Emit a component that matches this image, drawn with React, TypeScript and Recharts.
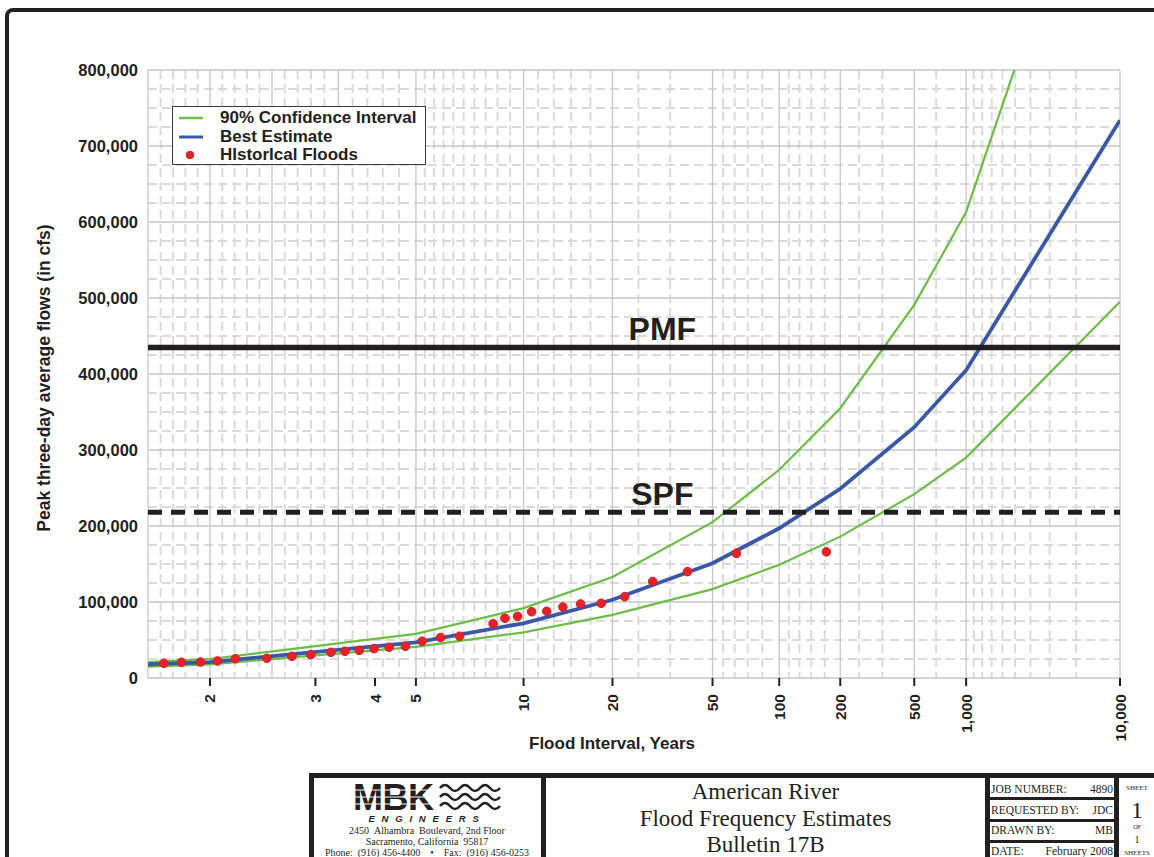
import React from 'react';
import {
  ComposedChart,
  Line,
  Scatter,
  XAxis,
  YAxis,
  CartesianGrid,
  ReferenceLine,
  ReferenceDot,
} from 'recharts';

// frequency curves, read at these flood intervals (years)
const CURVE_YEARS = [1.667, 2, 5, 10, 20, 50, 100, 200, 500, 1000, 10000];
const BEST_ESTIMATE = [18000, 21000, 47000, 72000, 103000, 151000, 197000, 249000, 330000, 405000, 734000];
const UPPER_90 = [21000, 25000, 58000, 92000, 133000, 205000, 274000, 355000, 491000, 613000, 1210000];
const LOWER_90 = [15000, 18000, 41000, 60000, 83000, 117000, 149000, 186000, 242000, 290000, 495000];

// historical floods: plotting interval (years) and peak three-day flow (cfs)
const FLOOD_YEARS = [1.74, 1.83, 1.94, 2.05, 2.18, 2.45, 2.71, 2.94, 3.22, 3.44, 3.69, 3.98, 4.31, 4.71, 5.18, 5.78, 6.5, 8.09, 8.77, 9.58, 10.6, 11.85, 13.4, 15.4, 18.2, 22.2, 28.4, 39.2, 63.6, 170];
const FLOOD_FLOWS = [19300, 20700, 21000, 22400, 25400, 25900, 28600, 30700, 33800, 35100, 36400, 38600, 40400, 41700, 48400, 53300, 55000, 71400, 78600, 81200, 87200, 87800, 93400, 97400, 98300, 107000, 127000, 140000, 164000, 166000];

const PMF = 435000;
const SPF = 218000;
const LABEL_YEARS = 31;

const TICK_YEARS = [2, 3, 4, 5, 10, 20, 50, 100, 200, 500, 1000, 10000];
const Y_TICKS = [0, 100000, 200000, 300000, 400000, 500000, 600000, 700000, 800000];

// probability paper grid (exceedance probability)
const MAJOR_P = [0.6, 0.5, 0.4, 0.3, 0.2, 0.1, 0.05, 0.02, 0.01, 0.005, 0.002, 0.001, 0.0001];
const MINOR_P = [
  0.58, 0.56, 0.54, 0.52, 0.48, 0.46, 0.44, 0.42, 0.38, 0.36, 0.34, 0.32, 0.28, 0.26, 0.24, 0.22,
  0.19, 0.18, 0.17, 0.16, 0.15, 0.14, 0.13, 0.12, 0.11, 0.09, 0.08, 0.07, 0.06, 0.04, 0.03,
  0.018, 0.016, 0.014, 0.012, 0.009, 0.008, 0.007, 0.006, 0.004, 0.003, 0.0015,
  0.0009, 0.0008, 0.0007, 0.0006, 0.0005, 0.0004, 0.0003, 0.0002,
];

const GREEN = '#6cbd45';
const BLUE = '#3b57a7';
const RED = '#ec2027';
const INK = '#231f20';
const SANS = '"Liberation Sans", Arial, sans-serif';
const SERIF = '"Liberation Serif", "Times New Roman", serif';
const NB = '\u00a0';

// inverse standard normal CDF (Acklam)
function probit(p: number) {
  const a = [-39.69683028665376, 220.9460984245205, -275.9285104469687, 138.357751867269, -30.66479806614716, 2.506628277459239];
  const b = [-54.47609879822406, 161.5858368580409, -155.6989798598866, 66.80131188771972, -13.28068155288572];
  const c = [-0.007784894002430293, -0.3223964580411365, -2.400758277161838, -2.549671348788250, 4.374664141464968, 2.938163982698783];
  const d = [0.007784695709041462, 0.3224671290700398, 2.445134137142996, 3.754408661907416];
  const lo = 0.02425;
  if (p < lo) {
    const q = Math.sqrt(-2 * Math.log(p));
    return (((((c[0] * q + c[1]) * q + c[2]) * q + c[3]) * q + c[4]) * q + c[5]) / ((((d[0] * q + d[1]) * q + d[2]) * q + d[3]) * q + 1);
  }
  if (p > 1 - lo) {
    const q = Math.sqrt(-2 * Math.log(1 - p));
    return -(((((c[0] * q + c[1]) * q + c[2]) * q + c[3]) * q + c[4]) * q + c[5]) / ((((d[0] * q + d[1]) * q + d[2]) * q + d[3]) * q + 1);
  }
  const q = p - 0.5;
  const r = q * q;
  return ((((((a[0] * r + a[1]) * r + a[2]) * r + a[3]) * r + a[4]) * r + a[5]) * q) / (((((b[0] * r + b[1]) * r + b[2]) * r + b[3]) * r + b[4]) * r + 1);
}

// position on the normal-probability axis
const zOfP = (p: number) => probit(1 - p);
const zOfYears = (years: number) => zOfP(1 / years);

const curveData = CURVE_YEARS.map((t, i) => ({
  z: zOfYears(t),
  best: BEST_ESTIMATE[i],
  upper: UPPER_90[i],
  lower: LOWER_90[i],
}));
const floodData = FLOOD_YEARS.map((t, i) => ({ z: zOfYears(t), flow: FLOOD_FLOWS[i] }));

const X_DOMAIN = [zOfP(MAJOR_P[0]), zOfP(MAJOR_P[MAJOR_P.length - 1])];
const X_TICKS = TICK_YEARS.map(zOfYears);
const MAJOR_X = MAJOR_P.map(zOfP);
const MINOR_X = MINOR_P.map(zOfP);
const MINOR_Y = Y_TICKS.slice(1).flatMap((v) => [v - 75000, v - 50000, v - 25000]);

function IntervalTick({ x, y, payload }: any) {
  let i = 0;
  X_TICKS.forEach((z, k) => {
    if (Math.abs(z - payload.value) < Math.abs(X_TICKS[i] - payload.value)) i = k;
  });
  return (
    <g>
      <line x1={x} x2={x} y1={y} y2={y + 8} stroke={INK} strokeWidth={2} />
      <text
        transform={`translate(${x + 5.5},${y + 16}) rotate(-90)`}
        textAnchor="end"
        fontFamily={SANS}
        fontWeight="bold"
        fontSize={15.5}
        fill={INK}
      >
        {TICK_YEARS[i].toLocaleString('en-US')}
      </text>
    </g>
  );
}

function FlowTick({ x, y, payload }: any) {
  return (
    <text x={x - 10} y={y} dy={5.5} textAnchor="end" fontFamily={SANS} fontWeight="bold" fontSize={16.5} fill={INK}>
      {payload.value.toLocaleString('en-US')}
    </text>
  );
}

const bigLabel = (value: string) => ({
  value,
  position: 'top' as const,
  offset: 7,
  style: { fontFamily: SANS, fontWeight: 'bold', fontSize: 32, fill: INK },
});

function FloodChart() {
  return (
    <ComposedChart width={1154} height={857} margin={{ top: 70, right: 34, bottom: 99, left: 0 }}>
      <CartesianGrid
        horizontalValues={MINOR_Y}
        verticalValues={MINOR_X}
        stroke="#dadada"
        strokeWidth={2}
        strokeDasharray="9 5"
      />
      <CartesianGrid horizontalValues={Y_TICKS} verticalValues={MAJOR_X} stroke="#c6c6c6" strokeWidth={1.3} />
      <XAxis
        type="number"
        dataKey="z"
        domain={X_DOMAIN}
        ticks={X_TICKS}
        interval={0}
        allowDataOverflow
        axisLine={false}
        tickLine={false}
        tickSize={0}
        tickMargin={0}
        height={80}
        tick={<IntervalTick />}
        label={{
          content: ({ viewBox }: any) => (
            <text
              x={viewBox.x + viewBox.width / 2 - 22}
              y={viewBox.y + 71}
              textAnchor="middle"
              fontFamily={SANS}
              fontWeight="bold"
              fontSize={17}
              fill={INK}
            >
              Flood Interval, Years
            </text>
          ),
        }}
      />
      <YAxis
        type="number"
        dataKey="flow"
        domain={[0, 800000]}
        ticks={Y_TICKS}
        interval={0}
        allowDataOverflow
        axisLine={false}
        tickLine={false}
        tickSize={0}
        tickMargin={0}
        width={148}
        tick={<FlowTick />}
        label={{
          content: ({ viewBox }: any) => (
            <text
              transform={`translate(50,${viewBox.y + viewBox.height / 2 + 4}) rotate(-90)`}
              textAnchor="middle"
              fontFamily={SANS}
              fontWeight="bold"
              fontSize={17.5}
              fill={INK}
            >
              Peak three-day average flows (in cfs)
            </text>
          ),
        }}
      />
      <Line data={curveData} dataKey="upper" type="linear" stroke={GREEN} strokeWidth={2.2} dot={false} activeDot={false} isAnimationActive={false} />
      <Line data={curveData} dataKey="lower" type="linear" stroke={GREEN} strokeWidth={2.2} dot={false} activeDot={false} isAnimationActive={false} />
      <Line data={curveData} dataKey="best" type="linear" stroke={BLUE} strokeWidth={3.8} dot={false} activeDot={false} isAnimationActive={false} />
      <ReferenceLine y={PMF} stroke={INK} strokeWidth={5.5} />
      <ReferenceLine y={SPF} stroke={INK} strokeWidth={5} strokeDasharray="14 9" />
      <ReferenceDot x={zOfYears(LABEL_YEARS)} y={PMF} r={0} stroke="none" fill="none" label={bigLabel('PMF')} />
      <ReferenceDot x={zOfYears(LABEL_YEARS)} y={SPF} r={0} stroke="none" fill="none" label={bigLabel('SPF')} />
      <Scatter
        data={floodData}
        isAnimationActive={false}
        shape={({ cx, cy }: any) => <circle cx={cx} cy={cy} r={4.3} fill={RED} stroke="#c8222a" strokeWidth={1} />}
      />
    </ComposedChart>
  );
}

function ChartLegend() {
  const rows = [
    { label: '90% Confidence Interval', kind: 'line', color: GREEN, width: 2.5 },
    { label: 'Best Estimate', kind: 'line', color: BLUE, width: 3 },
    { label: 'HIstorIcal Floods', kind: 'dot', color: RED, width: 0 },
  ];
  return (
    <div
      style={{
        position: 'absolute',
        left: 172,
        top: 106,
        width: 254,
        height: 59,
        boxSizing: 'border-box',
        border: '1.5px solid #3a3a3a',
        background: '#fff',
      }}
    >
      {rows.map((r, i) => (
        <div key={r.label} style={{ position: 'absolute', left: 0, top: 1 + i * 18.5, height: 18, width: 250 }}>
          <svg width={40} height={18} style={{ position: 'absolute', left: 0, top: 0 }}>
            {r.kind === 'line' ? (
              <line x1={6} x2={30} y1={10} y2={10} stroke={r.color} strokeWidth={r.width} />
            ) : (
              <circle cx={17} cy={10} r={3.8} fill={RED} stroke="#c8222a" strokeWidth={1} />
            )}
          </svg>
          <span
            style={{
              position: 'absolute',
              left: 47,
              top: 0,
              lineHeight: '19px',
              fontFamily: SANS,
              fontWeight: 'bold',
              fontSize: 17,
              color: INK,
              whiteSpace: 'nowrap',
            }}
          >
            {r.label}
          </span>
        </div>
      ))}
    </div>
  );
}

function Logo() {
  const address = [
    `2450${NB}${NB}Alhambra${NB}${NB}Boulevard, 2nd Floor`,
    `Sacramento, California${NB}${NB}95817`,
    `Phone:${NB}${NB}(916) 456-4400${NB}${NB}${NB}${NB}•${NB}${NB}${NB}${NB}Fax:${NB}${NB}(916) 456-0253`,
  ];
  return (
    <svg width={227} height={79} style={{ position: 'absolute', left: 314, top: 778 }}>
      <text x={39} y={32} fontFamily={SANS} fontWeight="bold" fontSize={36} fill={INK} letterSpacing={-0.5}>
        MBK
      </text>
      {[12, 19, 26].map((yy) => (
        <line key={yy} x1={37} x2={125} y1={yy} y2={yy} stroke="#fff" strokeWidth={1} />
      ))}
      {[10, 19, 28].map((yy) => (
        <path
          key={yy}
          d={`M126 ${yy} q5 -6 10 0 t10 0 t10 0 t10 0 t10 0 t10 0`}
          fill="none"
          stroke={INK}
          strokeWidth={2.6}
        />
      ))}
      <text x={113} y={44} textAnchor="middle" fontFamily={SANS} fontWeight="bold" fontStyle="italic" fontSize={9.5} letterSpacing={6.8} fill={INK}>
        ENGINEERS
      </text>
      <g fontFamily={SERIF} fontSize={10} fill={INK} textAnchor="middle">
        {address.map((line, i) => (
          <text key={i} x={113} y={55.5 + i * 11}>
            {line}
          </text>
        ))}
      </g>
    </svg>
  );
}

function TitleBlock() {
  const jobRows = [
    ['JOB NUMBER:', '4890'],
    ['REQUESTED BY:', 'JDC'],
    ['DRAWN BY:', 'MB'],
    ['DATE:', 'February 2008'],
  ];
  const bar = (left: number) => (
    <div style={{ position: 'absolute', left, top: 773, width: 5, height: 90, background: INK }} />
  );
  return (
    <>
      <div style={{ position: 'absolute', left: 309, top: 773, width: 900, height: 120, boxSizing: 'border-box', border: `5px solid ${INK}`, background: '#fff' }} />
      {bar(541)}
      {bar(985)}
      {bar(1114)}
      <Logo />
      <div style={{ position: 'absolute', left: 546, top: 779, width: 439, textAlign: 'center', fontFamily: SERIF, fontSize: 23, lineHeight: '26.5px', color: INK }}>
        <div>American River</div>
        <div>Flood Frequency Estimates</div>
        <div>Bulletin 17B</div>
      </div>
      {[797, 819, 840].map((t) => (
        <div key={t} style={{ position: 'absolute', left: 990, top: t, width: 124, height: 3, background: INK }} />
      ))}
      {jobRows.map(([k, v], i) => (
        <div
          key={k}
          style={{
            position: 'absolute',
            left: 991,
            top: 782 + i * 20.7,
            width: 122,
            display: 'flex',
            justifyContent: 'space-between',
            fontFamily: SERIF,
            fontSize: 11.5,
            lineHeight: '14px',
            color: INK,
            whiteSpace: 'nowrap',
          }}
        >
          <span>{k}</span>
          <span>{v}</span>
        </div>
      ))}
      <svg width={40} height={84} style={{ position: 'absolute', left: 1119, top: 778 }}>
        <g fontFamily={SERIF} fill={INK} textAnchor="middle">
          <text x={18} y={12} fontSize={7}>SHEET</text>
          <text x={18} y={40} fontSize={24}>1</text>
          <text x={18} y={51} fontSize={6}>OF</text>
          <text x={18} y={65} fontSize={10}>1</text>
          <text x={18} y={77} fontSize={7}>SHEETS</text>
        </g>
      </svg>
    </>
  );
}

export default function App() {
  return (
    <div style={{ position: 'absolute', left: 0, top: 0, width: 1154, height: 857, overflow: 'hidden', background: '#fff' }}>
      <div
        style={{
          position: 'absolute',
          left: 5,
          top: 8,
          width: 1220,
          height: 920,
          boxSizing: 'border-box',
          border: `4.5px solid ${INK}`,
          borderRadius: 8,
        }}
      />
      <div style={{ position: 'absolute', left: 0, top: 0 }}>
        <FloodChart />
      </div>
      <ChartLegend />
      <TitleBlock />
    </div>
  );
}
